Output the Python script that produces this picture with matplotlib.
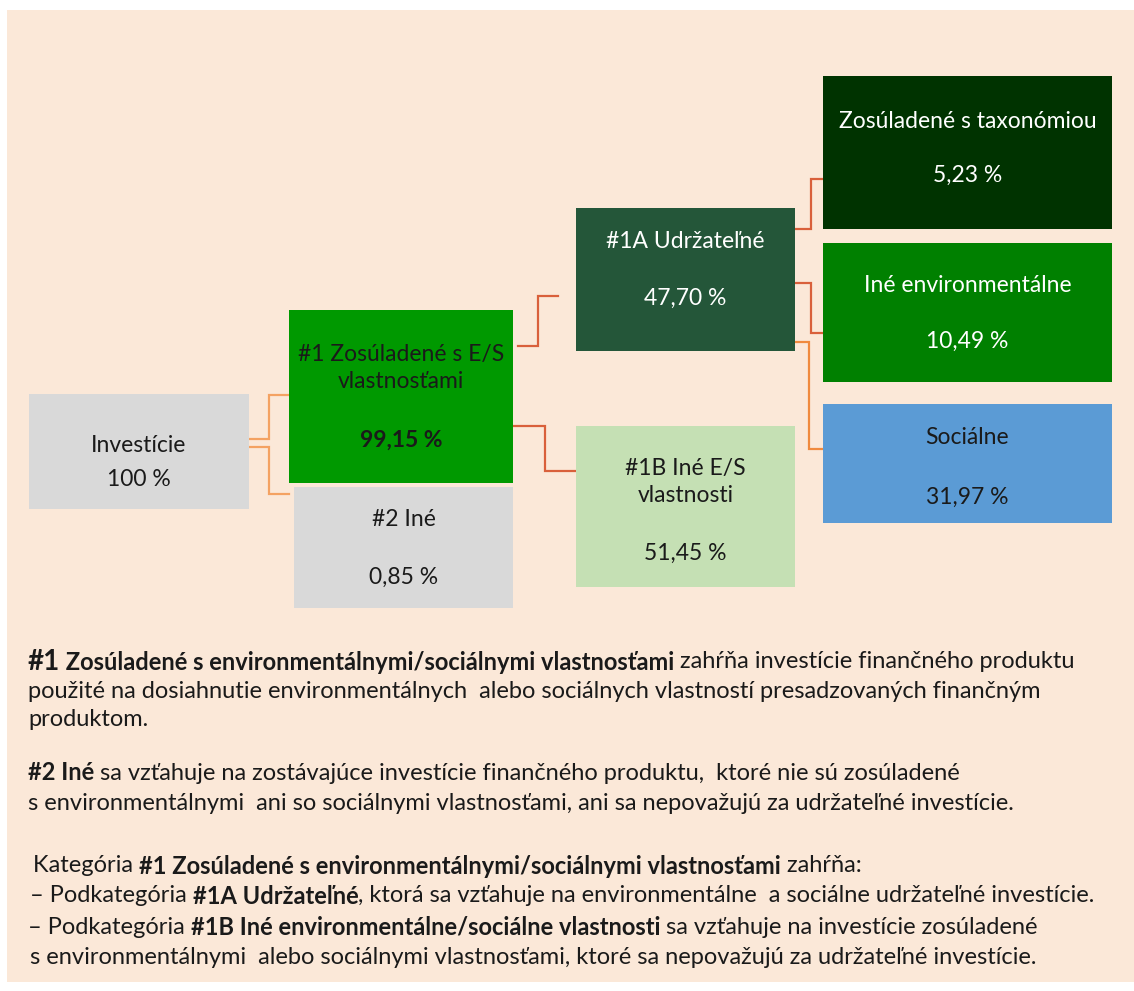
import matplotlib
matplotlib.use("Agg")
import matplotlib.pyplot as plt
from matplotlib.patches import Rectangle

# --- data ---
box_names = ["inv", "e1", "e2", "e1a", "e1b", "tax", "env", "soc"]
box_titles = ["Investície", "#1 Zosúladené s E/S\nvlastnosťami", "#2 Iné",
              "#1A Udržateľné", "#1B Iné E/S\nvlastnosti",
              "Zosúladené s taxonómiou", "Iné environmentálne", "Sociálne"]
box_values = [100, 99.15, 0.85, 47.70, 51.45, 5.23, 10.49, 31.97]
links = [("inv", "e1"), ("inv", "e2"), ("e1", "e1a"), ("e1", "e1b"),
         ("e1a", "tax"), ("e1a", "env"), ("e1a", "soc")]

note_lines = [
    [("#1", True), (" Zosúladené s environmentálnymi/sociálnymi vlastnosťami", True),
     (" zahŕňa investície finančného produktu", False)],
    [("použité na dosiahnutie environmentálnych  alebo sociálnych vlastností presadzovaných finančným", False)],
    [("produktom.", False)],
    [("#2 Iné", True), (" sa vzťahuje na zostávajúce investície finančného produktu,  ktoré nie sú zosúladené", False)],
    [("s environmentálnymi  ani so sociálnymi vlastnosťami, ani sa nepovažujú za udržateľné investície.", False)],
    [("Kategória ", False), ("#1 Zosúladené s environmentálnymi/sociálnymi vlastnosťami", True), (" zahŕňa:", False)],
    [("– Podkategória ", False), ("#1A Udržateľné", True),
     (", ktorá sa vzťahuje na environmentálne  a sociálne udržateľné investície.", False)],
    [("– Podkategória ", False), ("#1B Iné environmentálne/sociálne vlastnosti", True),
     (" sa vzťahuje na investície zosúladené", False)],
    [("s environmentálnymi  alebo sociálnymi vlastnosťami, ktoré sa nepovažujú za udržateľné investície.", False)],
]

# --- layout (pixel space, y down) ---
W, H = 1134, 991
rects = {  # x0, y0, x1, y1
    "inv": (29, 394, 249, 509),
    "e1": (289, 310, 513, 483),
    "e2": (294, 487, 513, 608),
    "e1a": (576, 208, 795, 351),
    "e1b": (576, 426, 795, 587),
    "tax": (823, 76, 1112, 229),
    "env": (823, 243, 1112, 382),
    "soc": (823, 404, 1112, 523),
}
fills = {"inv": "#d9d9d9", "e1": "#009900", "e2": "#d9d9d9", "e1a": "#245639",
         "e1b": "#c5e0b4", "tax": "#003300", "env": "#008000", "soc": "#5b9bd5"}
txt_col = {"e1a": "white", "tax": "white", "env": "white"}
# title y, value y
text_y = {"inv": (446, 479), "e1": (368, 440), "e2": (520, 577), "e1a": (241, 298),
          "e1b": (482, 553), "tax": (122, 175), "env": (285, 341), "soc": (438, 497)}
# elbow connectors: y at source, x of the bend, y at target, x end
elbows = {
    ("inv", "e1"): (439, 269, 395, 289),
    ("inv", "e2"): (447, 269, 494, 289),
    ("e1", "e1a"): (346, 538, 296, 558),
    ("e1", "e1b"): (426, 545, 471, 576),
    ("e1a", "tax"): (229, 811, 179, 823),
    ("e1a", "env"): (283, 811, 333, 823),
    ("e1a", "soc"): (342, 809, 449, 823),
}
link_col = {("inv", "e1"): "#f4a262", ("inv", "e2"): "#f4a262", ("e1a", "soc"): "#f08a3e"}
note_x = [28, 28, 28, 28, 28, 33, 30, 28, 30]
note_y = [662, 691, 720, 773, 803, 866, 896, 927, 957]

FONT = "Lato"
BOX_SIZE = 16.5
NOTE_SIZE = 17

fig = plt.figure(figsize=(W / 100, H / 100), dpi=100, facecolor="white")
ax = fig.add_axes([0, 0, 1, 1])
ax.set_xlim(0, W)
ax.set_ylim(H, 0)
ax.axis("off")

ax.add_patch(Rectangle((7, 10), W - 7, 972, facecolor="#fbe8d8", edgecolor="none", zorder=0))

for (a, b) in links:
    y0, xm, y1, x1 = elbows[(a, b)]
    x0 = rects[a][2]
    if (a, b) == ("e1", "e1a"):
        x0 = 518
    ax.plot([x0, xm, xm, x1], [y0, y0, y1, y1], color=link_col.get((a, b), "#d9603b"),
            lw=1.6, solid_joinstyle="miter", zorder=1)

for name, title, val in zip(box_names, box_titles, box_values):
    x0, y0, x1, y1 = rects[name]
    ax.add_patch(Rectangle((x0, y0), x1 - x0, y1 - y0, facecolor=fills[name],
                           edgecolor="none", zorder=2))
    cx = (x0 + x1) / 2
    ty, vy = text_y[name]
    col = txt_col.get(name, "#1a1a1a")
    vtxt = "100 %" if val == 100 else f"{val:.2f}".replace(".", ",") + " %"
    ax.text(cx, ty, title, ha="center", va="center", fontsize=BOX_SIZE, family=FONT,
            color=col, linespacing=1.3, zorder=3)
    ax.text(cx, vy, vtxt, ha="center", va="center", fontsize=BOX_SIZE, family=FONT,
            color=col, weight="bold" if name == "e1" else "normal", zorder=3)

fig.canvas.draw()
renderer = fig.canvas.get_renderer()
inv = ax.transData.inverted()
for parts, x, y in zip(note_lines, note_x, note_y):
    for s, bold in parts:
        size = NOTE_SIZE + 3 if s == "#1" else NOTE_SIZE
        t = ax.text(x, y, s, ha="left", va="center", fontsize=size, family=FONT,
                    weight="bold" if bold else "normal", color="#1a1a1a")
        bb = t.get_window_extent(renderer)
        x = inv.transform((bb.x1, bb.y0))[0]

fig.savefig("out.png", dpi=100, facecolor="white")
